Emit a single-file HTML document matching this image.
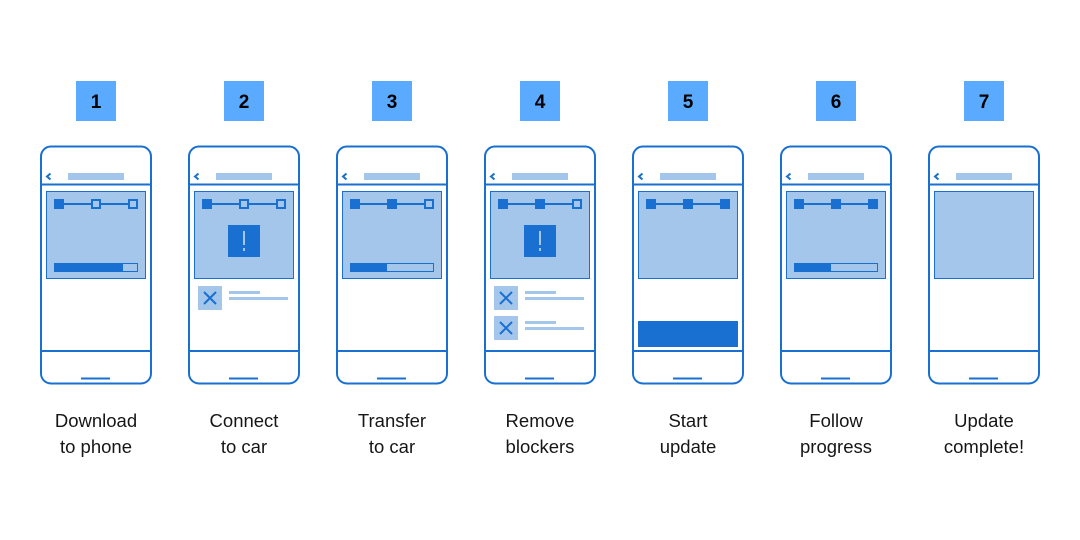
<!DOCTYPE html><html><head><style>body{margin:0;background:#fff;}svg{display:block}</style></head><body>
<svg width="1080" height="540" xmlns="http://www.w3.org/2000/svg" font-family="Liberation Sans, sans-serif">
<defs>
<g id="phone">
<rect x="41" y="146.5" width="110" height="237" rx="10" fill="#fff" stroke="#1970d0" stroke-width="2"/>
<line x1="41" y1="184.5" x2="151" y2="184.5" stroke="#1970d0" stroke-width="2"/>
<line x1="41" y1="351" x2="151" y2="351" stroke="#1970d0" stroke-width="2"/>
<line x1="81" y1="378.5" x2="110" y2="378.5" stroke="#1970d0" stroke-width="2"/>
<polyline points="50.5,173.5 47,176.5 50.5,179.5" fill="none" stroke="#1970d0" stroke-width="2"/>
<rect x="68" y="173" width="56" height="7" fill="#a4c6ea"/>
<rect x="46.5" y="191.5" width="99" height="87" fill="#a4c6ea" stroke="#1970d0" stroke-width="1"/>
</g>
<g id="steps"><line x1="59" y1="204" x2="133" y2="204" stroke="#1970d0" stroke-width="2"/></g>
<g id="xi"><rect x="0" y="0" width="24" height="24" fill="#a4c6ea"/><path d="M6 6L18 18M18 6L6 18" stroke="#1970d0" stroke-width="2"/><rect x="31" y="5" width="31" height="3" fill="#a4c6ea"/><rect x="31" y="11" width="59" height="3" fill="#a4c6ea"/></g>
<g id="ex"><rect x="228" y="225" width="32" height="32" fill="#1970d0"/><rect x="243" y="231" width="2" height="14" fill="#a4c6ea"/><rect x="243" y="248" width="2" height="3" fill="#a4c6ea"/></g>
</defs>
<g fill="#5aabff">
<rect x="76" y="81" width="40" height="40"/><rect x="224" y="81" width="40" height="40"/><rect x="372" y="81" width="40" height="40"/><rect x="520" y="81" width="40" height="40"/><rect x="668" y="81" width="40" height="40"/><rect x="816" y="81" width="40" height="40"/><rect x="964" y="81" width="40" height="40"/>
</g>
<g font-size="19" font-weight="bold" text-anchor="middle" fill="#000">
<text x="96" y="108">1</text><text x="244" y="108">2</text><text x="392" y="108">3</text><text x="540" y="108">4</text><text x="688" y="108">5</text><text x="836" y="108">6</text><text x="984" y="108">7</text>
</g>
<use href="#phone"/><use href="#phone" x="148"/><use href="#phone" x="296"/><use href="#phone" x="444"/><use href="#phone" x="592"/><use href="#phone" x="740"/><use href="#phone" x="888"/>
<g stroke="#1970d0" stroke-width="2">
<use href="#steps"/><use href="#steps" x="148"/><use href="#steps" x="296"/><use href="#steps" x="444"/><use href="#steps" x="592"/><use href="#steps" x="740"/>
</g>
<g fill="#1970d0">
<rect x="54" y="199" width="10" height="10"/><rect x="92" y="200" width="8" height="8" fill="#a4c6ea" stroke="#1970d0" stroke-width="2"/><rect x="129" y="200" width="8" height="8" fill="#a4c6ea" stroke="#1970d0" stroke-width="2"/>
<rect x="202" y="199" width="10" height="10"/><rect x="240" y="200" width="8" height="8" fill="#a4c6ea" stroke="#1970d0" stroke-width="2"/><rect x="277" y="200" width="8" height="8" fill="#a4c6ea" stroke="#1970d0" stroke-width="2"/>
<rect x="350" y="199" width="10" height="10"/><rect x="387" y="199" width="10" height="10"/><rect x="425" y="200" width="8" height="8" fill="#a4c6ea" stroke="#1970d0" stroke-width="2"/>
<rect x="498" y="199" width="10" height="10"/><rect x="535" y="199" width="10" height="10"/><rect x="573" y="200" width="8" height="8" fill="#a4c6ea" stroke="#1970d0" stroke-width="2"/>
<rect x="646" y="199" width="10" height="10"/><rect x="683" y="199" width="10" height="10"/><rect x="720" y="199" width="10" height="10"/>
<rect x="794" y="199" width="10" height="10"/><rect x="831" y="199" width="10" height="10"/><rect x="868" y="199" width="10" height="10"/>
</g>
<rect x="54.5" y="263.5" width="83" height="8" fill="#a4c6ea" stroke="#1970d0" stroke-width="1"/><rect x="54" y="263" width="69" height="9" fill="#1970d0"/>
<rect x="350.5" y="263.5" width="83" height="8" fill="#a4c6ea" stroke="#1970d0" stroke-width="1"/><rect x="350" y="263" width="37" height="9" fill="#1970d0"/>
<rect x="794.5" y="263.5" width="83" height="8" fill="#a4c6ea" stroke="#1970d0" stroke-width="1"/><rect x="794" y="263" width="37" height="9" fill="#1970d0"/>
<use href="#ex"/><use href="#ex" x="296"/>
<use href="#xi" x="198" y="286"/><use href="#xi" x="494" y="286"/><use href="#xi" x="494" y="316"/>
<rect x="638" y="321" width="100" height="26" fill="#1970d0"/>
<g font-size="18.5" text-anchor="middle" fill="#161616">
<text x="96" y="427">Download</text><text x="96" y="453">to phone</text>
<text x="244" y="427">Connect</text><text x="244" y="453">to car</text>
<text x="392" y="427">Transfer</text><text x="392" y="453">to car</text>
<text x="540" y="427">Remove</text><text x="540" y="453">blockers</text>
<text x="688" y="427">Start</text><text x="688" y="453">update</text>
<text x="836" y="427">Follow</text><text x="836" y="453">progress</text>
<text x="984" y="427">Update</text><text x="984" y="453">complete!</text>
</g>
</svg>
</body></html>
